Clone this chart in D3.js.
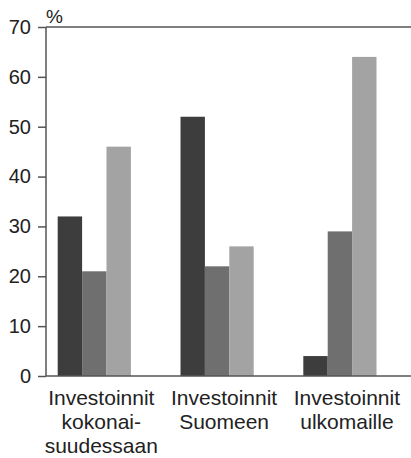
<!DOCTYPE html>
<html><head><meta charset="utf-8">
<script src="https://cdn.jsdelivr.net/npm/d3@7"></script>
<style>body{margin:0;background:#fff}svg{display:block}</style>
</head><body>
<svg id="c" width="411" height="458"></svg>
<script>
const categories = [["Investoinnit","kokonai-","suudessaan"],["Investoinnit","Suomeen"],["Investoinnit","ulkomaille"]];
const seriesNames = ["a","b","c"];
const seriesA = [32, 52, 4];
const seriesB = [21, 22, 29];
const seriesC = [46, 26, 64];
const yTicks = [0,10,20,30,40,50,60,70];
const colors = ["#3d3d3d","#6f6f6f","#a3a3a3"];

const svg = d3.select("#c");
const font = "'Liberation Sans', Arial, sans-serif";
const y = d3.scaleLinear().domain([0,70]).range([376,27]);
const keys = categories.map((c,i)=>"g"+i);
const x0 = d3.scaleBand().domain(keys).range([57.7,376.5]).paddingInner(0.404).paddingOuter(0);
const x1 = d3.scaleBand().domain(seriesNames).range([0,x0.bandwidth()]).padding(0);
const series = [seriesA, seriesB, seriesC];

// bars
keys.forEach((k,i)=>{
  seriesNames.forEach((s,j)=>{
    svg.append("rect")
      .attr("x", x0(k)+x1(s))
      .attr("width", x1.bandwidth())
      .attr("y", y(series[j][i]))
      .attr("height", y(0)-y(series[j][i]))
      .attr("fill", colors[j]);
  });
});

// y axis
const yAxis = d3.axisLeft(y).tickValues(yTicks).tickSize(8).tickPadding(7).tickFormat(d3.format("d"));
const ga = svg.append("g").attr("transform","translate(46,0)").call(yAxis);
ga.select(".domain").attr("stroke","#555").attr("stroke-width",1.5).attr("d","M0,"+y(70)+"V"+y(0));
ga.selectAll(".tick line").attr("stroke","#555").attr("stroke-width",1.5);
ga.selectAll(".tick text").attr("font-family",font).attr("font-size",20).attr("fill","#222");

// top and baseline lines
svg.append("line").attr("x1",46).attr("x2",411).attr("y1",y(70)).attr("y2",y(70)).attr("stroke","#555").attr("stroke-width",1.5);
svg.append("line").attr("x1",46).attr("x2",411).attr("y1",y(0)).attr("y2",y(0)).attr("stroke","#555").attr("stroke-width",1.5);

// percent
svg.append("text").attr("x",46).attr("y",23).attr("font-family",font).attr("font-size",19).attr("fill","#222").text("%");

// x labels
keys.forEach((k,i)=>{
  const t = svg.append("text").attr("text-anchor","middle").attr("font-family",font).attr("font-size",21).attr("fill","#222");
  categories[i].forEach((line,li)=>{
    t.append("tspan").attr("x", x0(k)+x0.bandwidth()/2+7).attr("y", 405 + li*24).text(line);
  });
});
</script>
</body></html>
